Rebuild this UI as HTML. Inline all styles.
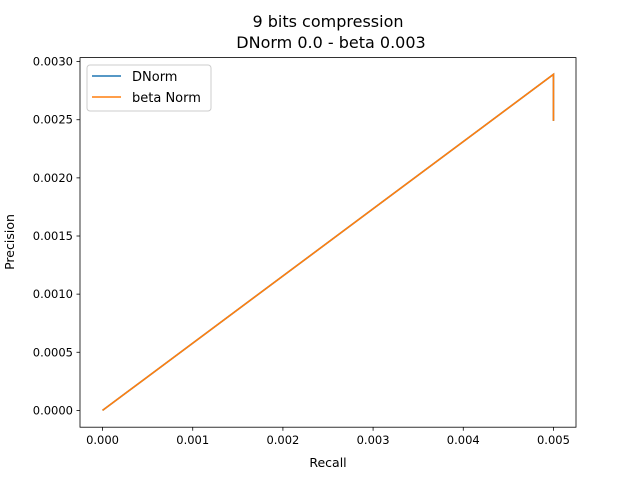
<!DOCTYPE html>
<html><head><meta charset="utf-8"><style>body{margin:0;background:#fff}svg{display:block;font-family:"DejaVu Sans","Liberation Sans",sans-serif}</style></head>
<body>
<svg id="chart" width="640" height="480">
<text x="328" y="27" font-size="16" text-anchor="middle">9 bits compression</text>
<text x="331" y="48" font-size="16" text-anchor="middle">DNorm 0.0 - beta 0.003</text>
<g id="ticks"></g>
<g id="lines"></g>
<rect x="80" y="57.6" width="496" height="369.6" fill="none" stroke="#000" stroke-width="0.8"/>
<text x="328" y="467" font-size="12.5" text-anchor="middle">Recall</text>
<text transform="translate(14,242) rotate(-90)" font-size="12.5" text-anchor="middle">Precision</text>
<g>
<rect x="87" y="65" width="124" height="46" rx="3" fill="#fff" fill-opacity="0.8" stroke="#ccc" stroke-width="1"/>
<line x1="92" y1="76" x2="121" y2="76" stroke="#1f77b4" stroke-width="1.5"/>
<text x="132" y="81" font-size="13">DNorm</text>
<line x1="92" y1="97" x2="121" y2="97" stroke="#ff7f0e" stroke-width="1.5"/>
<text x="132" y="102" font-size="13">beta Norm</text>
</g>
</svg>
<script>
const recall = [0, 0.005, 0.005];
const dnormPrecision = [0, 0.00289, 0.00249];
const betaPrecision = [0, 0.00289, 0.00249];
const xTicks = [0, 0.001, 0.002, 0.003, 0.004, 0.005];
const xTickLabels = ["0.000","0.001","0.002","0.003","0.004","0.005"];
const yTicks = [0, 0.0005, 0.001, 0.0015, 0.002, 0.0025, 0.003];
const yTickLabels = ["0.0000","0.0005","0.0010","0.0015","0.0020","0.0025","0.0030"];

const L=80,R=576,T=57.6,B=427.2;
const xmin=Math.min(...recall),xmax=Math.max(...recall);
const all=dnormPrecision.concat(betaPrecision);
const ymin=Math.min(...all),ymax=Math.max(...all);
const xs=v=>L+(R-L)*(0.05+(v-xmin)/(xmax-xmin))/1.1;
const ys=v=>B-(B-T)*(0.05+(v-ymin)/(ymax-ymin))/1.1;
const NS="http://www.w3.org/2000/svg";
const tg=document.getElementById('ticks');
function mk(t,a,p){const e=document.createElementNS(NS,t);for(const k in a)e.setAttribute(k,a[k]);p.appendChild(e);return e;}
xTicks.forEach((v,i)=>{const x=xs(v);
 const l=mk('line',{x1:x,x2:x,y1:B,y2:B+3.5,stroke:'#000','stroke-width':0.8},tg);
 
 
 const t=mk('text',{x:x,y:B+17,'font-size':11.5,'text-anchor':'middle'},tg);t.textContent=xTickLabels[i];
 
 });
yTicks.forEach((v,i)=>{const y=ys(v);
 const l=mk('line',{x1:L-3.5,x2:L,y1:y,y2:y,stroke:'#000','stroke-width':0.8},tg);
 
 
 const t=mk('text',{x:L-7,y:y+4,'font-size':11.5,'text-anchor':'end'},tg);t.textContent=yTickLabels[i];
 
 });
const lg=document.getElementById('lines');
[[dnormPrecision,'#1f77b4','dnorm-line'],[betaPrecision,'#ff7f0e','beta-norm-line']].forEach(([d,c,n])=>{
 const p=mk('polyline',{points:recall.map((x,i)=>xs(x)+','+ys(d[i])).join(' '),fill:'none',stroke:c,'stroke-width':1.6},lg);
 
 });
</script>
</body></html>
